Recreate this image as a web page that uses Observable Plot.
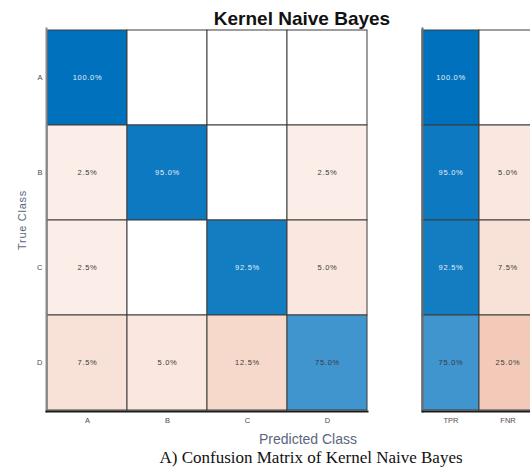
<!DOCTYPE html>
<html>
<head>
<meta charset="utf-8">
<script src="https://cdn.jsdelivr.net/npm/d3@7"></script>
<script src="https://cdn.jsdelivr.net/npm/@observablehq/plot@0.6"></script>
<style>
  html, body { margin: 0; padding: 0; background: #fff; }
  #fig { position: relative; width: 530px; height: 470px; overflow: hidden; background: #fff; }
  #fig svg { position: absolute; top: 0; overflow: visible; }
  .lbl { position: absolute; white-space: nowrap; line-height: 1; transform: translateX(-50%); }
  #title { left: 302px; top: 8px; font: bold 19px "Liberation Sans", Arial, sans-serif; color: #111; }
  #xlabel { left: 308px; top: 431px; font: 14px "Liberation Sans", Arial, sans-serif; color: #5b6580; }
  #caption { left: 311px; top: 448px; font: 17px "Liberation Serif", "Times New Roman", serif; color: #111; }
  g[aria-label="text"] text { letter-spacing: 0.7px; }
</style>
</head>
<body>
<div id="fig">
  <div id="title" class="lbl">Kernel Naive Bayes</div>
  <div id="xlabel" class="lbl">Predicted Class</div>
  <div id="caption" class="lbl">A) Confusion Matrix of Kernel Naive Bayes</div>
</div>
<script>
// Class names (rows = true class, columns = predicted class)
const classes = ["A", "B", "C", "D"];

// Row-normalized confusion matrix, in percent
const rowA = [100, 0, 0, 0];
const rowB = [2.5, 95, 0, 2.5];
const rowC = [2.5, 0, 92.5, 5];
const rowD = [7.5, 5, 12.5, 75];
const confusion = [rowA, rowB, rowC, rowD];

// Per-class summary: true positive rate and false negative rate, in percent
const rateLabels = ["TPR", "FNR"];
const tpr = [100, 95, 92.5, 75];
const fnr = [0, 5, 7.5, 25];

// Colour ramps: blue for correct predictions, orange for errors
const blue = d3.scaleLinear().domain([0, 100]).range(["#ffffff", "#0072bd"]);
const orange = d3.scaleSqrt().domain([0, 100])
  .range(["#ffffff", d3.interpolateRgb("#ffffff", "#d95319")(0.62)]);

const fillOf = d => d.value === 0 ? "#ffffff" : (d.good ? blue(d.value) : orange(d.value));
const inkOf = d => d.good && d.value > 85 ? "#e6eefa" : "#3a3a3a";
const fmt = d => d.value.toFixed(1) + "%";

const font = '"Liberation Sans", Arial, sans-serif';

// Main matrix cells
const cells = classes.flatMap((t, i) =>
  classes.map((p, j) => ({trueClass: t, predicted: p, value: confusion[i][j], good: i === j}))
);

const main = Plot.plot({
  width: 380,
  height: 430,
  marginLeft: 46,
  marginRight: 13,
  marginTop: 28,
  marginBottom: 19,
  style: {fontFamily: font, background: "transparent"},
  x: {domain: classes, padding: 0, axis: null},
  y: {domain: classes, padding: 0, axis: null},
  marks: [
    Plot.cell(cells, {x: "predicted", y: "trueClass", fill: fillOf, stroke: "#3c3c3c", strokeWidth: 1, inset: 0}),
    Plot.text(cells.filter(d => d.value > 0), {x: "predicted", y: "trueClass", text: fmt, fill: inkOf, fontSize: 7.5}),
    Plot.frame({anchor: "left", stroke: "#8a8a8a", strokeWidth: 2}),
    Plot.frame({anchor: "bottom", stroke: "#1a1a1a", strokeWidth: 2}),
    Plot.axisX({label: null, tickSize: 0, tickPadding: 6, fontSize: 7.5, color: "#4a4a4a"}),
    Plot.axisY({label: null, tickSize: 0, tickPadding: 4, fontSize: 7.5, color: "#4a4a4a"}),
    Plot.text(["True Class"], {frameAnchor: "left", rotate: -90, dx: -24, textAnchor: "middle", fontSize: 11, fill: "#5b6580"})
  ]
});
main.style.left = "0px";

// Summary columns (TPR / FNR per true class)
const rates = classes.flatMap((t, i) => [
  {trueClass: t, metric: "TPR", value: tpr[i], good: true},
  {trueClass: t, metric: "FNR", value: fnr[i], good: false}
]);

const side = Plot.plot({
  width: 136,
  height: 430,
  marginLeft: 22,
  marginRight: 0,
  marginTop: 28,
  marginBottom: 19,
  style: {fontFamily: font, background: "transparent"},
  x: {domain: rateLabels, padding: 0, axis: null},
  y: {domain: classes, padding: 0, axis: null},
  marks: [
    Plot.cell(rates, {x: "metric", y: "trueClass", fill: fillOf, stroke: "#3c3c3c", strokeWidth: 1, inset: 0}),
    Plot.text(rates.filter(d => d.value > 0), {x: "metric", y: "trueClass", text: fmt, fill: inkOf, fontSize: 7.5}),
    Plot.frame({anchor: "left", stroke: "#6a6a6a", strokeWidth: 2}),
    Plot.frame({anchor: "bottom", stroke: "#1a1a1a", strokeWidth: 2}),
    Plot.axisX({label: null, tickSize: 0, tickPadding: 6, fontSize: 7.5, color: "#5a4a4a"})
  ]
});
side.style.left = "400px";

const fig = document.getElementById("fig");
fig.insertBefore(side, fig.firstChild);
fig.insertBefore(main, fig.firstChild);
</script>
</body>
</html>
